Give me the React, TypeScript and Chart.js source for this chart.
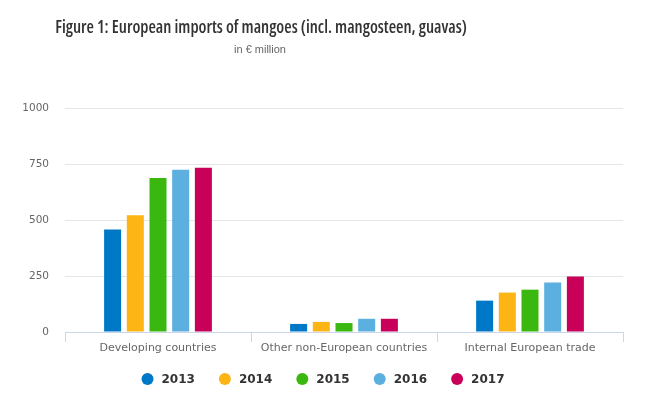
import React, { useEffect, useRef } from "react";
import { Chart, registerables } from "chart.js";

Chart.register(...registerables);

const titleText = "Figure 1: European imports of mangoes (incl. mangosteen, guavas)";
const subtitleText = "in € million";
const categories = ["Developing countries", "Other non-European countries", "Internal European trade"];
const years = ["2013", "2014", "2015", "2016", "2017"];
const values2013 = [458, 36, 140];
const values2014 = [521, 45, 176];
const values2015 = [688, 40, 189];
const values2016 = [724, 59, 221];
const values2017 = [733, 59, 248];
const seriesValues = [values2013, values2014, values2015, values2016, values2017];
const colors = ["#0078c8", "#fdb515", "#3bb80f", "#5bb0df", "#c9005a"];
const yTicks = [0, 250, 500, 750, 1000];

const decorPlugin = {
  id: "figDecor",
  afterDraw(chart: any) {
    const ctx = chart.ctx as CanvasRenderingContext2D;
    ctx.save();
    // title + subtitle
    ctx.textAlign = "center";
    ctx.textBaseline = "middle";
    ctx.fillStyle = "#333333";
    ctx.font = "600 17px 'Open Sans', sans-serif";
    try { (ctx as any).fontStretch = "condensed"; } catch (e) {}
    ctx.fillText(titleText, 261, 28);
    try { (ctx as any).fontStretch = "normal"; } catch (e) {}
    ctx.fillStyle = "#666666";
    ctx.font = "11px 'Liberation Sans', sans-serif";
    ctx.fillText(subtitleText, 260, 50);

    // legend built from the datasets
    const items = chart.data.datasets.map((d: any) => ({ label: String(d.label), color: d.backgroundColor }));
    ctx.font = "bold 12px 'DejaVu Sans', sans-serif";
    const r = 6;
    const gapText = 8;
    const gapItem = 24;
    const widths = items.map((it: any) => 2 * r + gapText + ctx.measureText(it.label).width);
    const total = widths.reduce((a: number, b: number) => a + b, 0) + gapItem * (items.length - 1);
    let x = 323 - total / 2;
    const y = 379;
    ctx.textAlign = "left";
    items.forEach((it: any, i: number) => {
      ctx.beginPath();
      ctx.fillStyle = it.color;
      ctx.arc(x + r, y, r, 0, Math.PI * 2);
      ctx.fill();
      ctx.fillStyle = "#333333";
      ctx.fillText(it.label, x + 2 * r + gapText, y + 0.5);
      x += widths[i] + gapItem;
    });
    ctx.restore();
  },
};

export default function App() {
  const ref = useRef<HTMLCanvasElement | null>(null);

  useEffect(() => {
    if (!ref.current) return;
    const chart = new Chart(ref.current, {
      type: "bar",
      data: {
        labels: categories,
        datasets: years.map((y, i) => ({
          label: y,
          data: seriesValues[i],
          backgroundColor: colors[i],
          borderWidth: 0,
          categoryPercentage: 0.61,
          barPercentage: 0.75,
        })),
      },
      plugins: [decorPlugin],
      options: {
        responsive: false,
        animation: false,
        layout: { padding: { left: 0, right: 27, top: 108, bottom: 39 } },
        plugins: {
          title: { display: false },
          legend: { display: false },
          tooltip: { enabled: false },
        },
        scales: {
          x: {
            z: 1,
            offset: true,
            grid: {
              display: true,
              offset: true,
              drawOnChartArea: false,
              drawTicks: true,
              tickLength: 10,
              color: "#ccd6eb",
            },
            border: { display: true, color: "#ccd6eb" },
            ticks: {
              color: "#666666",
              padding: 0,
              font: { family: "'DejaVu Sans', sans-serif", size: 11 },
              maxRotation: 0,
            },
            afterFit: (s: any) => { s.height = 24; },
          },
          y: {
            min: 0,
            max: 1000,
            afterBuildTicks: (s: any) => { s.ticks = yTicks.map((v) => ({ value: v })); },
            grid: { color: "#e6e6e6", drawTicks: false },
            border: { display: false },
            ticks: {
              color: "#666666",
              padding: 16,
              font: { family: "'DejaVu Sans', sans-serif", size: 10.5 },
              callback: (v: any) => String(v),
            },
            afterFit: (s: any) => { s.width = 65; },
          },
        },
      },
    });
    return () => chart.destroy();
  }, []);

  return (
    <div style={{ position: "absolute", left: 0, top: 0, width: 650, height: 395, background: "#ffffff" }}>
      <canvas ref={ref} width={650} height={395} style={{ display: "block" }} />
    </div>
  );
}
